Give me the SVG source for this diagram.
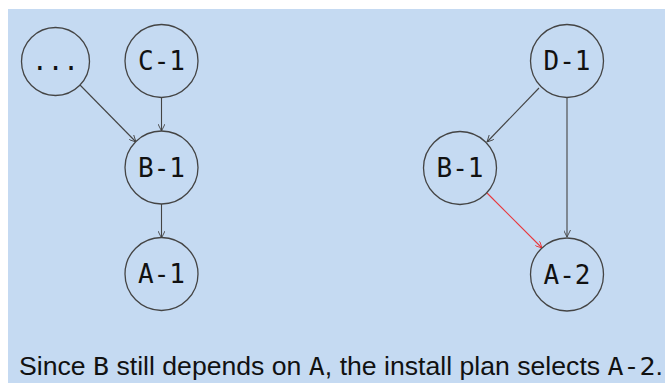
<svg xmlns="http://www.w3.org/2000/svg" width="665" height="383" viewBox="0 0 665 383">
<defs>
<marker id="ah" viewBox="0 0 10 10" refX="10" refY="5" markerWidth="7" markerHeight="7" markerUnits="userSpaceOnUse" orient="auto">
<path d="M0,0 L10,5 L0,10" fill="none" stroke="#444" stroke-width="1.3"/>
</marker>
<marker id="ahr" viewBox="0 0 10 10" refX="10" refY="5" markerWidth="7" markerHeight="7" markerUnits="userSpaceOnUse" orient="auto">
<path d="M0,0 L10,5 L0,10" fill="none" stroke="#e8373d" stroke-width="1.3"/>
</marker>
</defs>
<style>
.n{fill:#c5daf2;stroke:#444;stroke-width:1.3}
.l{font-family:"DejaVu Sans Mono",monospace;font-size:26px;fill:#111;text-anchor:middle}
.e{stroke:#444;stroke-width:1.1;fill:none;marker-end:url(#ah)}
.r{stroke:#e8373d;stroke-width:1.1;fill:none;marker-end:url(#ahr)}
.t{font-family:"Liberation Sans",Arial,sans-serif;font-size:25px;fill:#111}
.m{font-family:"DejaVu Sans Mono",monospace}
</style>
<rect x="8" y="9" width="657" height="374" fill="#c5daf2"/>
<g id="edges">
<line class="e" x1="80" y1="85" x2="136" y2="142"/>
<line class="e" x1="161.5" y1="97" x2="161.5" y2="131"/>
<line class="e" x1="161.5" y1="204" x2="161.5" y2="238"/>
<line class="e" x1="539" y1="88" x2="487" y2="142"/>
<line class="e" x1="567" y1="98" x2="567" y2="237"/>
<line class="r" x1="487" y1="193" x2="542" y2="248"/>
</g>
<g id="dots"><circle class="n" cx="55.5" cy="61.5" r="34"/><text class="l" x="55.5" y="70">...</text></g>
<g id="C-1"><circle class="n" cx="161.5" cy="61" r="36.5"/><text class="l" x="161.5" y="70">C-1</text></g>
<g id="B-1-left"><circle class="n" cx="161.5" cy="167.5" r="36.5"/><text class="l" x="161.5" y="176.5">B-1</text></g>
<g id="A-1"><circle class="n" cx="161.5" cy="274" r="36.5"/><text class="l" x="161.5" y="283">A-1</text></g>
<g id="D-1"><circle class="n" cx="567" cy="61" r="36.5"/><text class="l" x="567" y="70">D-1</text></g>
<g id="B-1-right"><circle class="n" cx="460" cy="168" r="36.5"/><text class="l" x="460" y="177">B-1</text></g>
<g id="A-2"><circle class="n" cx="567" cy="274.5" r="36.5"/><text class="l" x="567" y="283.5">A-2</text></g>
<text class="t" x="19" y="375" textLength="644" lengthAdjust="spacingAndGlyphs">Since <tspan class="m">B</tspan> still depends on <tspan class="m">A</tspan>, the install plan selects <tspan class="m">A-2</tspan>.</text>
</svg>
